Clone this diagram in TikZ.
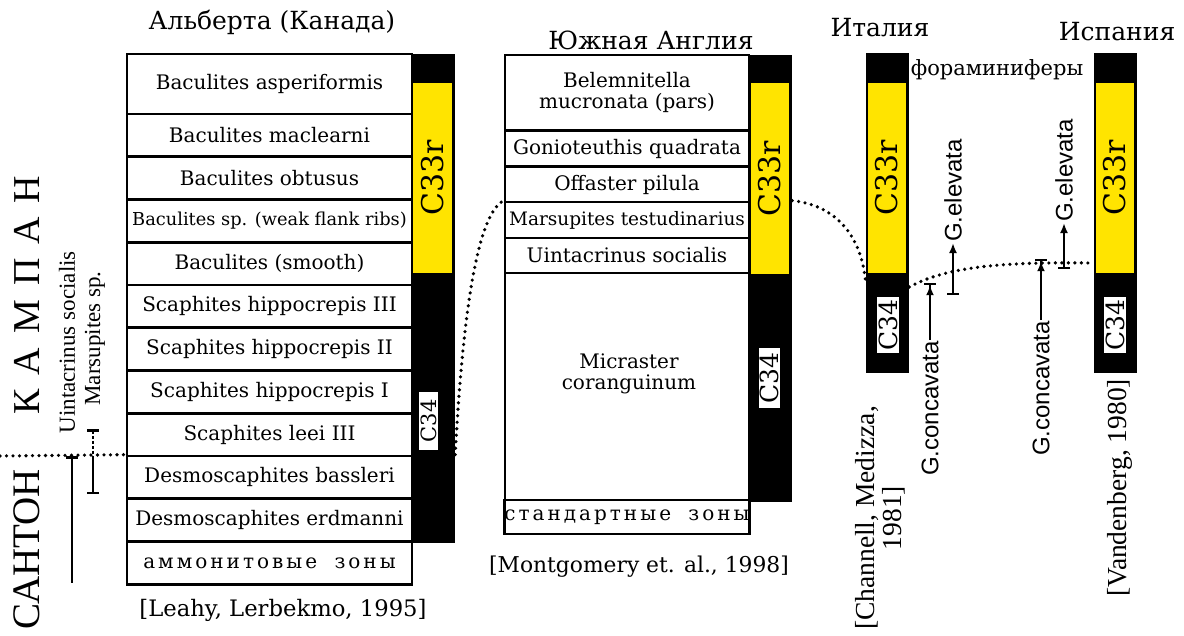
\documentclass[tikz,border=0pt]{standalone}
\usepackage{fontspec}
\setmainfont{DejaVu Serif}
\newfontfamily\timesfont{Liberation Serif}
\newfontfamily\sansfont{Liberation Sans}
\usetikzlibrary{arrows.meta}
\definecolor{revyellow}{RGB}{255,228,0}

\begin{document}
\begin{tikzpicture}[x=1pt, y=-1pt,
  zone/.style={draw, line width=2.7pt, inner sep=0pt, align=center, font=\fontsize{20}{21}\selectfont},
  azone/.style={zone, minimum width=285pt, minimum height=42.75pt},
  ezone/.style={zone, minimum width=244pt},
  bar/.style={fill=black, inner sep=0pt, minimum width=43pt},
  rev/.style={fill=revyellow, inner sep=0pt, font=\fontsize{30}{32}\selectfont},
  normlab/.style={fill=white, inner sep=1.5pt, font=\fontsize{25}{26}\selectfont},
  title/.style={font=\fontsize{25}{28}\selectfont},
  corr/.style={line width=3.6pt, line cap=round, dash pattern=on 0pt off 6.5pt},
  taxon/.style={line width=2.5pt},
  fossil/.style={line width=2.2pt},
  glab/.style={rotate=90, inner sep=1pt, font=\sansfont\fontsize{24}{26}\selectfont},
  sideref/.style={rotate=90, align=center, font=\timesfont\fontsize{27.5}{27}\selectfont}
]
\useasboundingbox (0,0) rectangle (1184,635);

% Alberta
\node[title] (albt) at (272,22) {Альберта (Канада)};
\node[azone, minimum height=60pt] (asper) at (269.5,84) {Baculites asperiformis};
\node[azone] (macl) at (269.5,135.4) {Baculites maclearni};
\node[azone] (obtu) at (269.5,178.1) {Baculites obtusus};
\node[azone] (weak) at (269.5,220.9) {\fontsize{17.8}{19}\selectfont Baculites sp. (weak flank ribs)};
\node[azone] (smoo) at (269.5,263.6) {Baculites (smooth)};
\node[azone] (hip3) at (269.5,306.4) {Scaphites hippocrepis III};
\node[azone] (hip2) at (269.5,349.1) {Scaphites hippocrepis II};
\node[azone] (hip1) at (269.5,391.9) {Scaphites hippocrepis I};
\node[azone] (leei) at (269.5,434.6) {Scaphites leei III};
\node[azone] (bass) at (269.5,477.4) {Desmoscaphites bassleri};
\node[azone] (erdm) at (269.5,520.1) {\fontsize{20}{21}\selectfont Desmoscaphites erdmanni};
\node[azone] (ammz) at (269.5,562.9) {\addfontfeature{LetterSpace=15}аммонитовые\hspace{8pt} зоны};
\node[bar, minimum height=489pt] (albbar) at (433.5,298.5) {};
\node[rev, minimum width=39pt, minimum height=190pt] (albrev) at (432.5,178) {\rotatebox{90}{C33r}};
\node[normlab, minimum height=58pt, font=\fontsize{21}{22}\selectfont] (albn) at (428.5,421) {\rotatebox{90}{C34}};
\node[font=\fontsize{22.7}{24}\selectfont] (albc) at (283,610) {[Leahy, Lerbekmo, 1995]};

% England
\node[title] (engt) at (651,40) {Южная Англия};
\node[ezone, minimum height=75pt] (bele) at (627,92.5) {Belemnitella\\mucronata (pars)};
\node[ezone, minimum height=36pt] (goni) at (627,148.5) {Gonioteuthis quadrata};
\node[ezone, minimum height=35pt] (offa) at (627,184.5) {Offaster pilula};
\node[ezone, minimum height=36pt] (mars) at (627,220) {\fontsize{18.5}{19}\selectfont Marsupites testudinarius};
\node[ezone, minimum height=35pt] (uint) at (627,255.5) {Uintacrinus socialis};
\node[ezone, minimum height=227pt] (micr) at (627,386.5) {};
\node[align=center, font=\fontsize{20}{21}\selectfont] (micrt) at (629,374) {Micraster\\coranguinum};
\node[ezone, minimum height=34pt] (stdz) at (627,517) {\addfontfeature{LetterSpace=15}стандартные\hspace{8pt} зоны};
\node[bar, minimum height=447pt] (engbar) at (770.5,278.5) {};
\node[rev, minimum width=38pt, minimum height=191pt] (engrev) at (770,178.5) {\rotatebox{90}{C33r}};
\node[normlab, minimum height=60pt] (engn) at (769.5,378) {\rotatebox{90}{C34}};
\node[font=\fontsize{21.8}{24}\selectfont] (engc) at (639,567) {[Montgomery et. al., 1998]};

% Italy, Spain
\node[title] (itt) at (880,28) {Италия};
\node[bar, minimum height=320pt] (itbar) at (887.5,213) {};
\node[rev, minimum width=38pt, minimum height=190pt] (itrev) at (887,178) {\rotatebox{90}{C33r}};
\node[normlab, minimum height=56pt] (itn) at (888,325) {\rotatebox{90}{C34}};
\node[sideref] (itc) at (880,518) {[Channell, Medizza,\\1981]};

\node[title] (spt) at (1117,32) {Испания};
\node[bar, minimum height=320pt] (spbar) at (1115.5,213) {};
\node[rev, minimum width=38pt, minimum height=190pt] (sprev) at (1115,178) {\rotatebox{90}{C33r}};
\node[normlab, minimum height=56pt] (spn) at (1115,325) {\rotatebox{90}{C34}};
\node[sideref] (spc) at (1120,488) {[Vandenberg, 1980]};

\node[font=\fontsize{21}{22}\selectfont] (foram) at (997,70) {фораминиферы};

% stages and ranges on the left
\node[rotate=90, font=\timesfont\fontsize{39}{40}\selectfont] (sant) at (27,549) {САНТОН};
\node[rotate=90, font=\timesfont\fontsize{38}{40}\selectfont] (kamp) at (27,295)
  {К\hspace{14pt}А\hspace{14pt}М\hspace{14pt}П\hspace{14pt}А\hspace{14pt}Н};
\node[rotate=90, anchor=west, font=\timesfont\fontsize{23}{24}\selectfont] (uintl) at (67,437) {Uintacrinus\hspace{6pt}socialis};
\node[rotate=90, anchor=west, font=\timesfont\fontsize{23}{24}\selectfont] (marsl) at (95,409) {Marsupites sp.};

\coordinate (lft) at (0,456);
\coordinate (uinta) at (72,456);
\coordinate (uintb) at (72,583);
\coordinate (marsa) at (93,429);
\coordinate (marsb) at (93,456);
\coordinate (marsc) at (93,494);
\draw[taxon, {Bar[width=12pt]}-] (uinta) -- (uintb);
\draw[taxon, {Bar[width=12pt]}-, dash pattern=on 3pt off 2pt] (marsa) -- (marsb);
\draw[taxon, -{Bar[width=12pt]}] (marsb) -- (marsc);

% correlation lines
\draw[corr] (lft) -- (bass.north west);
\draw[corr] (albbar.east |- bass.north) .. controls (462,330) and (475,215) .. (mars.north west);
\draw[corr] (engbar.east |- mars.north) .. controls (835,205) and (862,235) .. (itbar.west |- 0,284);
\draw[corr] (itbar.east |- 0,287) .. controls (950,265) and (1010,262) .. (spbar.west |- 0,263);

% foraminifera
\coordinate (ite1) at (953,295);
\coordinate (ite2) at (953,243);
\coordinate (itc1) at (930,340);
\coordinate (itc2) at (930,283);
\coordinate (spe1) at (1064,269);
\coordinate (spe2) at (1064,223);
\coordinate (spc1) at (1041,320);
\coordinate (spc2) at (1041,259);
\draw[fossil, {Bar[width=12pt]}-{Latex[length=10pt,width=8pt]}] (ite1) -- (ite2);
\draw[fossil, -{Latex[length=10pt,width=8pt]Bar[width=12pt]}] (itc1) -- (itc2);
\draw[fossil, {Bar[width=12pt]}-{Latex[length=10pt,width=8pt]}] (spe1) -- (spe2);
\draw[fossil, -{Latex[length=10pt,width=8pt]Bar[width=12pt]}] (spc1) -- (spc2);
\node[glab, anchor=west] (itel) at (ite2) {G.elevata};
\node[glab, anchor=east] (itcl) at (itc1) {G.concavata};
\node[glab, anchor=west] (spel) at (spe2) {G.elevata};
\node[glab, anchor=east] (spcl) at (spc1) {G.concavata};

\end{tikzpicture}
\end{document}
